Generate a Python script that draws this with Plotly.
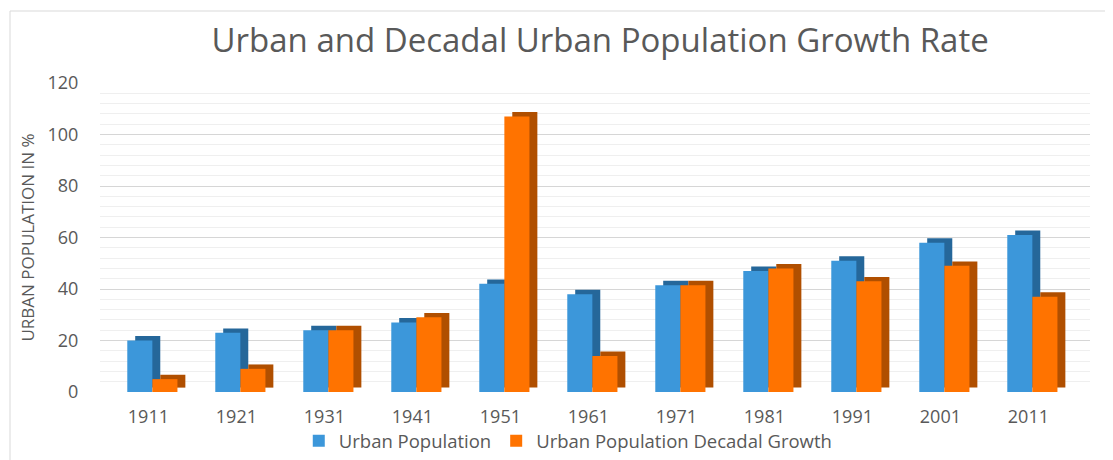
import plotly.graph_objects as go

years = [1911, 1921, 1931, 1941, 1951, 1961, 1971, 1981, 1991, 2001, 2011]
urban_population = [20, 23, 24, 27, 42, 38, 41.5, 47, 51, 58, 61]
decadal_growth = [5, 9, 24, 29, 107, 14, 41.5, 48, 43, 49, 37]
tick_labels = [str(y) for y in years]

BLUE = "#3c97da"
BLUE_DARK = "#25679a"
ORANGE = "#ff7300"
ORANGE_DARK = "#b04f00"
W = 2.85
DX = 0.9
DY = 1.7

fig = go.Figure()
# depth (3D side) + front faces
fig.add_trace(go.Bar(x=years, y=urban_population, base=DY, offset=-2.4 + DX, width=W,
                     marker=dict(color=BLUE_DARK, line=dict(width=0)), showlegend=False, hoverinfo="skip"))
fig.add_trace(go.Bar(x=years, y=urban_population, offset=-2.4, width=W, name="Urban Population",
                     marker=dict(color=BLUE, line=dict(width=0))))
fig.add_trace(go.Bar(x=years, y=decadal_growth, base=DY, offset=0.45 + DX, width=W,
                     marker=dict(color=ORANGE_DARK, line=dict(width=0)), showlegend=False, hoverinfo="skip"))
fig.add_trace(go.Bar(x=years, y=decadal_growth, offset=0.45, width=W, name="Urban Population Decadal Growth",
                     marker=dict(color=ORANGE, line=dict(width=0))))

fig.update_layout(
    width=1113, height=460,
    barmode="overlay",
    paper_bgcolor="white", plot_bgcolor="white",
    margin=dict(l=92, r=31, t=75, b=76, autoexpand=False),
    font=dict(family="Open Sans, sans-serif", color="#595959"),
    title=dict(text="Urban and Decadal Urban Population Growth Rate", x=0.532, xanchor="center",
               y=0.930, yanchor="middle", font=dict(size=33, color="#595959")),
    xaxis=dict(range=[1905.5, 2018], tickvals=years, ticktext=tick_labels, showgrid=False,
               zeroline=False, showline=False, ticks="outside", ticklen=8,
               tickcolor="rgba(0,0,0,0)", automargin=False,
               tickfont=dict(size=18, color="#595959")),
    yaxis=dict(range=[0, 120], dtick=20, showgrid=True, gridcolor="#d6d6d6", gridwidth=1,
               minor=dict(dtick=4, showgrid=True, gridcolor="#efefef"),
               zeroline=False, ticks="outside", ticklen=17, tickcolor="rgba(0,0,0,0)",
               automargin=False, tickfont=dict(size=18, color="#595959"),
               title=dict(text="URBAN POPULATION IN %", font=dict(size=17, color="#595959"), standoff=8)),
    legend=dict(orientation="h", x=0.473, xanchor="center", y=-0.159, yanchor="middle",
                bgcolor="rgba(0,0,0,0)", font=dict(size=18.5, color="#595959"),
                itemwidth=30, tracegroupgap=0),
    shapes=[dict(type="line", xref="paper", yref="paper", x0=-0.0909, x1=-0.0909, y0=-0.3, y1=1.233,
                 line=dict(color="#d9d9d9", width=1)),
            dict(type="line", xref="paper", yref="paper", x0=-0.0909, x1=1.04, y0=1.233, y1=1.233,
                 line=dict(color="#d9d9d9", width=1))],
)

fig.write_html("out.html")
